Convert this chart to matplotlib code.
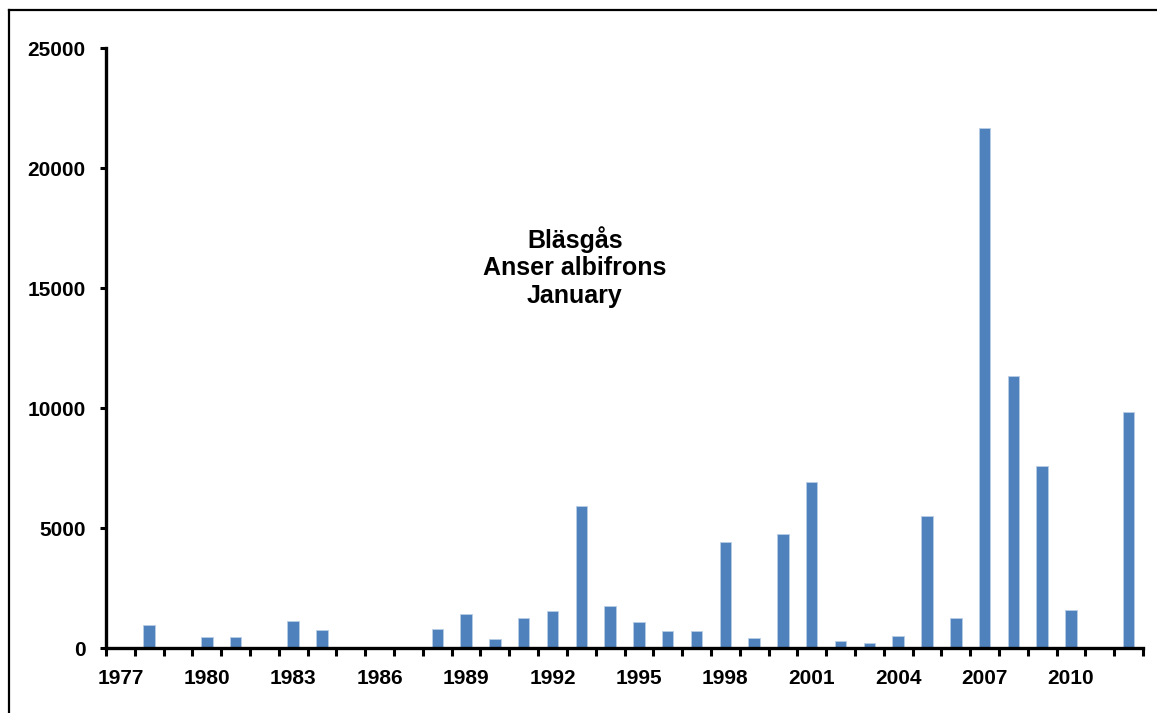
import matplotlib
matplotlib.use("Agg")
import matplotlib.pyplot as plt
from matplotlib.lines import Line2D

plt.rcParams['font.family'] = ['Liberation Sans', 'DejaVu Sans']
plt.rcParams['font.weight'] = 'bold'

# January counts
years = list(range(1977, 2013))
counts = [0, 970, 0, 460, 460, 0, 1125, 735, 0, 0, 0, 805, 1430, 390, 1250, 1555,
          5920, 1735, 1085, 720, 700, 4420, 430, 4750, 6920, 305, 210, 515, 5500, 1265,
          21650, 11320, 7570, 1600, 0, 9820]
tick_years = list(range(1977, 2011, 3))
y_ticks = [0, 5000, 10000, 15000, 20000, 25000]

fig = plt.figure(figsize=(11.57, 7.13), dpi=100)
ax = fig.add_axes([106 / 1157, 1 - 648 / 713, (1143 - 106) / 1157, 600 / 713])

pos = list(range(len(years)))
ax.bar(pos, counts, width=0.4, color='#4f81bd', edgecolor='#b9cde5', linewidth=0.6)

ax.set_xlim(-0.5, len(years) - 0.5)
ax.set_ylim(0, 25000)

# category labels every third year, tick marks between categories
ax.set_xticks([years.index(y) for y in tick_years])
ax.set_xticklabels([str(y) for y in tick_years])
ax.set_xticks([p - 0.5 for p in range(len(years) + 1)], minor=True)
ax.tick_params(axis='x', which='major', length=0, pad=15, labelsize=15)
ax.tick_params(axis='x', which='minor', length=6, width=2.2, direction='out')

ax.set_yticks(y_ticks)
ax.set_yticklabels([str(v) for v in y_ticks])
ax.tick_params(axis='y', length=4.5, width=2.2, direction='out', pad=10, labelsize=15)

for side in ['top', 'right']:
    ax.spines[side].set_visible(False)
for side in ['left', 'bottom']:
    ax.spines[side].set_linewidth(2.4)

ax.text(0.452, 0.635, 'Bläsgås\nAnser albifrons\nJanuary', transform=ax.transAxes,
        ha='center', va='center', fontsize=18, fontweight='bold', linespacing=1.2)

# outer chart frame (clipped at right and bottom)
fig.add_artist(Line2D([9 / 1157, 9 / 1157], [0, 1 - 10 / 713], color='black', linewidth=1.6))
fig.add_artist(Line2D([9 / 1157, 1], [1 - 10 / 713, 1 - 10 / 713], color='black', linewidth=1.6))

fig.savefig('out.png', dpi=100)
